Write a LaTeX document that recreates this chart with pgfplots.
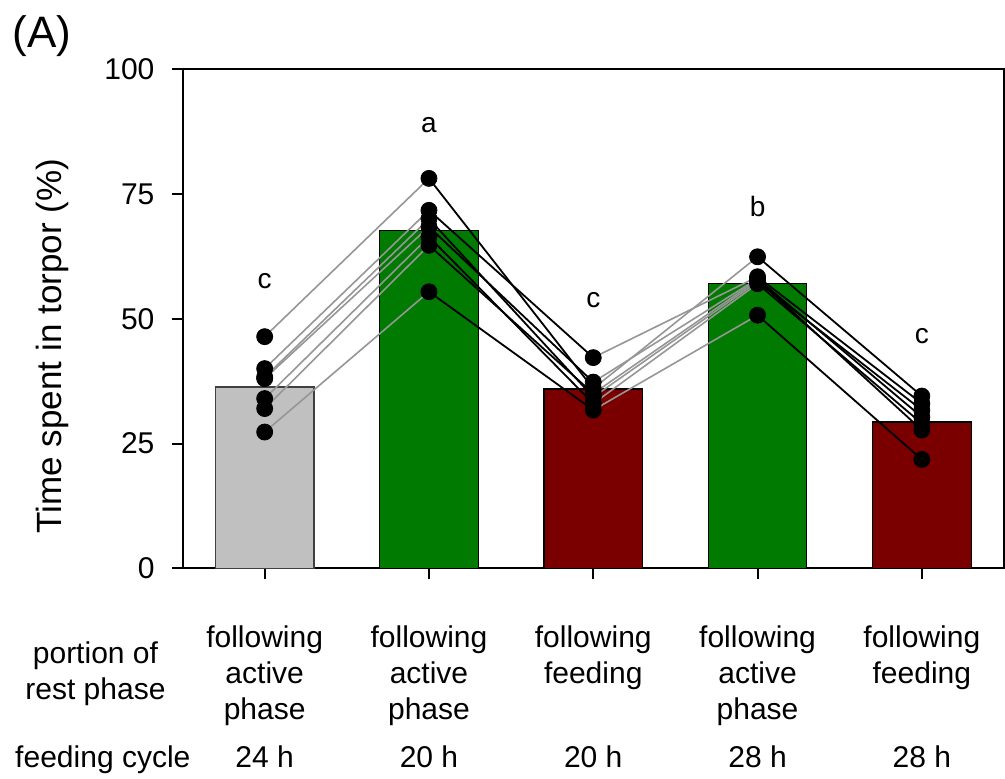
\documentclass[border=0pt]{standalone}
\usepackage{fontspec}
\setmainfont{Liberation Sans}
\usepackage{pgfplots}
\pgfplotsset{compat=1.18}
\usepackage{pgfplotstable}

\definecolor{barGray}{RGB}{192,192,192}
\definecolor{barGreen}{RGB}{0,122,0}
\definecolor{barRed}{RGB}{122,0,0}
\definecolor{lineGray}{RGB}{150,150,150}

% individual animals (columns = animal, rows = condition)
\pgfplotstableread{
x A1 A2 A3 A4 A5 A6 A7
0 46.4 40.0 38.3 38.0 34.0 32.0 27.3
1 78.1 71.7 70.0 68.4 66.4 64.7 55.4
2 36.0 42.2 34.3 37.3 33.0 35.0 31.7
3 62.4 58.4 57.4 58.0 57.0 57.8 50.7
4 34.5 33.0 31.7 30.3 29.0 27.7 21.8
}\animals

\begin{document}
\begin{tikzpicture}
\begin{axis}[
  scale only axis,
  width=410.5pt, height=249.5pt,
  xmin=-0.5, xmax=4.5, ymin=0, ymax=100,
  xtick={0,1,2,3,4}, xticklabels={},
  ytick={0,25,50,75,100},
  tick align=outside, major tick length=5.5pt,
  xtick pos=bottom, ytick pos=left,
  axis line style={line width=1pt},
  every tick/.style={black, line width=1pt},
  tick label style={font=\fontsize{15}{17}\selectfont},
  yticklabel style={xshift=-5pt},
  /pgf/number format/assume math mode=true,
  clip=false,
]
% frame of the whole figure
\path (axis cs:-1.611,113.83) rectangle (axis cs:4.498,-42.08);

% means
\addplot[ybar, bar width=0.6, bar shift=0pt, fill=barGray, draw=black!75, line width=0.6pt] coordinates {(0,36.3)};
\addplot[ybar, bar width=0.6, bar shift=0pt, fill=barGreen, draw=black, line width=0.6pt] coordinates {(1,67.7) (3,57.1)};
\addplot[ybar, bar width=0.6, bar shift=0pt, fill=barRed, draw=black, line width=0.6pt] coordinates {(2,35.9) (4,29.3)};

% lines per animal
\pgfplotsinvokeforeach{1,...,7}{
  \addplot[lineGray, line width=0.8pt, restrict x to domain=0:1] table[x=x, y=A#1] {\animals};
  \addplot[lineGray, line width=0.8pt, restrict x to domain=2:3] table[x=x, y=A#1] {\animals};
  \addplot[black, line width=0.9pt, restrict x to domain=1:2] table[x=x, y=A#1] {\animals};
  \addplot[black, line width=0.9pt, restrict x to domain=3:4] table[x=x, y=A#1] {\animals};
}
\pgfplotsinvokeforeach{1,...,7}{
  \addplot[only marks, mark=*, mark size=4pt, black] table[x=x, y=A#1] {\animals};
}

% significance letters
\begin{scope}[every node/.style={font=\fontsize{14}{16}\selectfont, anchor=base}]
\node at (axis cs:0,56.0) {c};
\node at (axis cs:1,87.2) {a};
\node at (axis cs:2,52.3) {c};
\node at (axis cs:3,70.5) {b};
\node at (axis cs:4,45.1) {c};
\end{scope}

% category labels
\begin{scope}[every node/.style={font=\fontsize{15}{17.8}\selectfont, align=center, inner sep=0pt}]
\node[anchor=north] at (axis cs:0,-11.5) {following\\active\\phase};
\node[anchor=north] at (axis cs:1,-11.5) {following\\active\\phase};
\node[anchor=north] at (axis cs:2,-11.5) {following\\feeding};
\node[anchor=north] at (axis cs:3,-11.5) {following\\active\\phase};
\node[anchor=north] at (axis cs:4,-11.5) {following\\feeding};
\node[anchor=north] at (axis cs:-1.03,-14.6) {portion of\\rest phase};
\node[anchor=base] at (axis cs:-0.985,-39.9) {feeding cycle};
\node[anchor=base] at (axis cs:0,-39.9) {24 h};
\node[anchor=base] at (axis cs:1,-39.9) {20 h};
\node[anchor=base] at (axis cs:2,-39.9) {20 h};
\node[anchor=base] at (axis cs:3,-39.9) {28 h};
\node[anchor=base] at (axis cs:4,-39.9) {28 h};
\end{scope}

% axis title and panel label
\node[rotate=90, anchor=base, font=\fontsize{17.5}{20}\selectfont] at (axis cs:-1.234,44.5) {Time spent in torpor (\%)};
\node[anchor=west, font=\fontsize{22}{25}\selectfont, inner sep=0pt] at (axis cs:-1.538,106.6) {(A)};
\end{axis}
\end{tikzpicture}
\end{document}
